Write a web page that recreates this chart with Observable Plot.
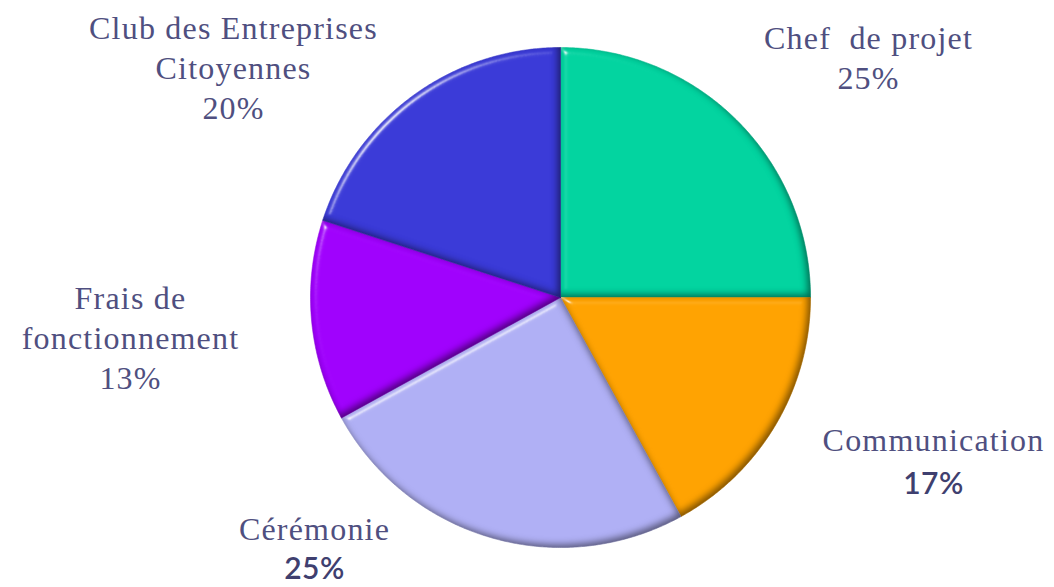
<!DOCTYPE html>
<html>
<head>
<meta charset="utf-8">
<script src="https://cdn.jsdelivr.net/npm/d3@7"></script>
<script src="https://cdn.jsdelivr.net/npm/@observablehq/plot@0.6"></script>
<style>
  html, body { margin: 0; padding: 0; background: #fff; }
  #chart { width: 1054px; height: 587px; }
</style>
</head>
<body>
<div id="chart"></div>
<script>
// ---- data ----
const categories = ["Chef  de projet", "Communication", "Cérémonie", "Frais de fonctionnement", "Club des Entreprises Citoyennes"];
const values = [25, 17, 25, 13, 20];
const percentLabels = ["25%", "17%", "25%", "13%", "20%"];
const nameLines = [["Chef  de projet"], ["Communication"], ["Cérémonie"], ["Frais de", "fonctionnement"], ["Club des Entreprises", "Citoyennes"]];
const colors = ["#02d4a0", "#ffa300", "#b0b0f5", "#a000fd", "#3a3ad8"];

// ---- layout (pixels) ----
const W = 1054, H = 587;
const cx = 560, cy = 297, R = 250;
const labelAnchor = [[868, 38], [933, 440], [314, 529], [130, 298], [233, 28]]; // first line centre
const percentGap = [40, 44, 40, 40, 40];
const percentSans = [false, true, true, false, false];
const lineGap = 40;

// pie geometry from data
const arcs = d3.pie().sort(null).value(d => d)(values);
const polys = [];
arcs.forEach((a, i) => {
  const pts = [[0, 0]];
  const n = Math.max(2, Math.ceil((a.endAngle - a.startAngle) / (Math.PI / 360)));
  for (let k = 0; k <= n; k++) {
    const t = a.startAngle + (a.endAngle - a.startAngle) * k / n;
    pts.push([Math.sin(t), Math.cos(t)]);
  }
  pts.push([0, 0]);
  pts.forEach(([x, y]) => polys.push({cat: categories[i], x, y}));
});

// label rows (in pixel space converted to data units)
const toX = px => (px - cx) / R;
const toY = py => (cy - py) / R;
const rows = [];
nameLines.forEach((lines, i) => {
  const [ax, ay] = labelAnchor[i];
  lines.forEach((t, j) => rows.push({text: t, x: toX(ax), y: toY(ay + j * lineGap), sans: false}));
  const py = ay + (lines.length - 1) * lineGap + percentGap[i];
  rows.push({text: percentLabels[i], x: toX(ax), y: toY(py), sans: percentSans[i]});
});

const chart = Plot.plot({
  width: W, height: H,
  margin: 0,
  x: {domain: [-cx / R, (W - cx) / R], axis: null},
  y: {domain: [-(H - cy) / R, cy / R], axis: null},
  color: {domain: categories, range: colors},
  style: {background: "#fff"},
  marks: [
    Plot.line(polys, {x: "x", y: "y", z: "cat", fill: "cat", stroke: "cat", strokeWidth: 0.5, curve: "linear"}),
    Plot.text(rows.filter(d => !d.sans), {x: "x", y: "y", text: "text", fontFamily: "Liberation Serif", fontSize: 32, fill: "#4f4f80", textAnchor: "middle", lineAnchor: "middle"}),
    Plot.text(rows.filter(d => d.sans), {x: "x", y: "y", text: "text", fontFamily: "Lato", fontSize: 30, fontWeight: 600, fill: "#3f3f6f", textAnchor: "middle", lineAnchor: "middle"})
  ]
});

// bevel filter
const svg = d3.select(chart);
const defs = svg.insert("defs", ":first-child");
defs.html(`
<filter id="bevel" x="-5%" y="-5%" width="110%" height="110%" color-interpolation-filters="sRGB">
  <feGaussianBlur in="SourceAlpha" stdDeviation="3.5" result="blur"/>
  <feSpecularLighting in="blur" surfaceScale="5" specularConstant="0.8" specularExponent="40" lighting-color="#ffffff" result="spec">
    <feDistantLight azimuth="225" elevation="35"/>
  </feSpecularLighting>
  <feComposite in="spec" in2="SourceAlpha" operator="in" result="specIn"/>
  <feOffset in="blur" dx="-3" dy="-3" result="off"/>
  <feComposite in="SourceAlpha" in2="off" operator="out" result="shadowMask"/>
  <feFlood flood-color="#000" flood-opacity="0.5"/>
  <feComposite in2="shadowMask" operator="in" result="shadow"/>
  <feMerge><feMergeNode in="SourceGraphic"/><feMergeNode in="shadow"/><feMergeNode in="specIn"/></feMerge>
</filter>`);
svg.selectAll("g[aria-label='line'] path").attr("filter", "url(#bevel)");
svg.selectAll("g[aria-label='text'] text").style("letter-spacing", "1.2px");
svg.selectAll("g[aria-label='text']:last-of-type text").style("letter-spacing", "0.5px");

document.getElementById("chart").appendChild(chart);
</script>
</body>
</html>
